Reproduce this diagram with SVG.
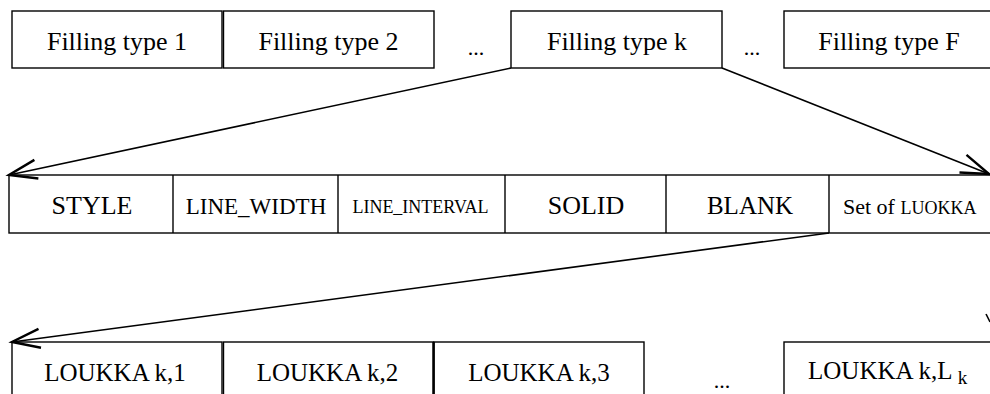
<svg xmlns="http://www.w3.org/2000/svg" width="990" height="394" viewBox="0 0 990 394">
  <style>
    .box { fill: #fff; stroke: #000; stroke-width: 1.4; }
    .div { stroke: #000; stroke-width: 1.4; }
    text { font-family: 'Liberation Serif', 'Times New Roman', serif; fill: #000; }
    .lbl { font-size: 26px; text-anchor: middle; }
    .dots { font-size: 22px; text-anchor: middle; }
    .conn { fill: none; stroke: #000; stroke-width: 1.6; }
  </style>
  <defs>
    <marker id="arrow" markerUnits="userSpaceOnUse" orient="auto" refX="0" refY="0" markerWidth="40" markerHeight="30" viewBox="-34 -15 40 30" overflow="visible">
      <path d="M -28 -9.5 L 0 0 L -28 9.5" fill="none" stroke="#000" stroke-width="2.4"/>
    </marker>
  </defs>

  <rect width="990" height="394" fill="#fff"/>

  <!-- Top row: filling types -->
  <g id="filling-1">
    <rect class="box" x="12" y="11" width="210" height="57"/>
    <text class="lbl" x="117" y="50">Filling type 1</text>
  </g>
  <g id="filling-2">
    <rect class="box" x="223.5" y="11" width="210.5" height="57"/>
    <text class="lbl" x="328.5" y="50">Filling type 2</text>
  </g>
  <g id="filling-dots-1">
    <text class="dots" x="476" y="55">...</text>
  </g>
  <g id="filling-k">
    <rect class="box" x="511" y="11" width="211" height="57"/>
    <text class="lbl" x="617" y="50">Filling type k</text>
  </g>
  <g id="filling-dots-2">
    <text class="dots" x="752" y="55">...</text>
  </g>
  <g id="filling-F">
    <rect class="box" x="784" y="11" width="220" height="57"/>
    <text class="lbl" x="889" y="50">Filling type F</text>
  </g>

  <!-- Middle row: fields of a filling type -->
  <g id="fields">
    <rect class="box" x="9" y="175" width="995" height="58"/>
  </g>
  <g id="field-style">
    <text class="lbl" x="92" y="214">STYLE</text>
  </g>
  <g id="field-line-width">
    <line class="div" x1="173" y1="175" x2="173" y2="233"/>
    <text class="lbl" x="256" y="214" style="font-size:23px">LINE_WIDTH</text>
  </g>
  <g id="field-line-interval">
    <line class="div" x1="338" y1="175" x2="338" y2="233"/>
    <text class="lbl" x="420.5" y="213" style="font-size:18px">LINE_INTERVAL</text>
  </g>
  <g id="field-solid">
    <line class="div" x1="505" y1="175" x2="505" y2="233"/>
    <text class="lbl" x="586" y="214">SOLID</text>
  </g>
  <g id="field-blank">
    <line class="div" x1="666" y1="175" x2="666" y2="233"/>
    <text class="lbl" x="750" y="214" style="font-size:25px">BLANK</text>
  </g>
  <g id="field-set">
    <line class="div" x1="829" y1="175" x2="829" y2="233"/>
    <text class="lbl" x="843" y="213.5" style="text-anchor:start;font-size:22px">Set of <tspan style="font-size:18px">LUOKKA</tspan></text>
  </g>

  <!-- Bottom row: LOUKKA entries -->
  <g id="loukka-1">
    <rect class="box" x="12" y="342" width="210" height="70"/>
    <text class="lbl" x="115" y="381" style="font-size:25px">LOUKKA k,1</text>
  </g>
  <g id="loukka-2">
    <rect class="box" x="223.5" y="342" width="210" height="70"/>
    <text class="lbl" x="327.5" y="381" style="font-size:25px">LOUKKA k,2</text>
  </g>
  <g id="loukka-3">
    <rect class="box" x="434" y="342" width="210" height="70"/>
    <line x1="433.5" y1="342" x2="433.5" y2="394" stroke="#000" stroke-width="2.4"/>
    <text class="lbl" x="539" y="381" style="font-size:25px">LOUKKA k,3</text>
  </g>
  <g id="loukka-dots">
    <text class="dots" x="722" y="388">...</text>
  </g>
  <g id="loukka-L">
    <rect class="box" x="784" y="342" width="220" height="70"/>
    <text class="lbl" x="808" y="379" style="text-anchor:start;font-size:25px">LOUKKA k,L <tspan dy="5" style="font-size:19px">k</tspan></text>
  </g>

  <!-- Connectors -->
  <g id="connectors">
    <line class="conn" x1="511" y1="68" x2="9" y2="175" marker-end="url(#arrow)"/>
    <line class="conn" x1="722" y1="68" x2="989" y2="174" marker-end="url(#arrow)"/>
    <line class="conn" x1="829" y1="233" x2="12" y2="342" marker-end="url(#arrow)"/>
    <line class="conn" x1="986" y1="314" x2="990" y2="322"/>
  </g>
</svg>
